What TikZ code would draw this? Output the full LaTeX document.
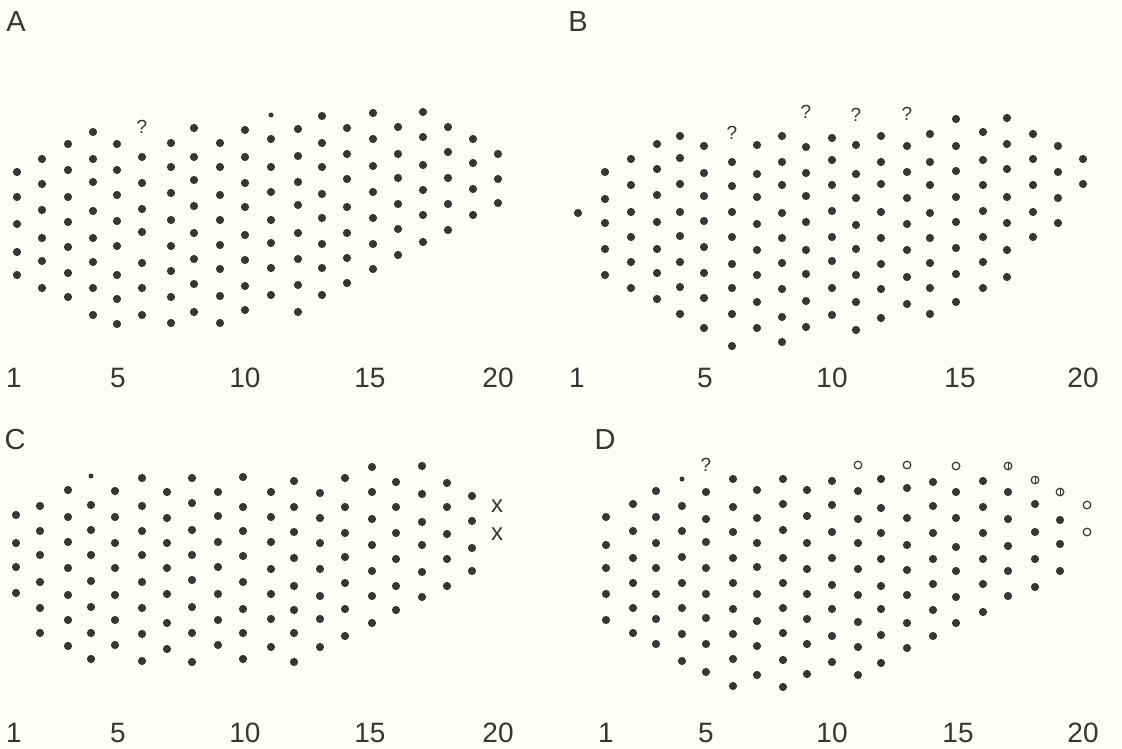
\documentclass[tikz,border=0pt]{standalone}
\usepackage{fontspec}
\setmainfont{Liberation Sans}
\definecolor{ink}{RGB}{55,53,55}
\definecolor{paper}{RGB}{253,253,247}
\tikzset{
  dot/.style={circle, fill=ink, inner sep=0pt, minimum size=8.2pt},
  smalldot/.style={circle, fill=ink, inner sep=0pt, minimum size=5pt},
  ring/.style={circle, draw=ink, line width=1.2pt, inner sep=0pt, minimum size=7.6pt},
  barred/.style={ring, path picture={\draw[ink, line width=1pt]
      (path picture bounding box.north) -- (path picture bounding box.south);}},
  query/.style={font=\fontsize{19}{19}\selectfont, text=ink, inner sep=0pt},
  cross/.style={font=\fontsize{24}{24}\selectfont, text=ink, inner sep=0pt},
  axisnum/.style={font=\fontsize{28}{28}\selectfont, text=ink, inner sep=0pt},
  panel/.style={font=\fontsize{29}{29}\selectfont, text=ink, inner sep=0pt},
}
\begin{document}
\begin{tikzpicture}[x=1pt, y=-1pt]
\fill[paper] (0,0) rectangle (1122,749);
\useasboundingbox (0,0) rectangle (1122,749);

% ---------- panel A ----------
\node[panel] (labA) at (16,22) {A};
\foreach \cx/\ys [count=\c] in {
  17/{172,197,224,252,275},
  42/{159,184,210,238,261,288},
  68/{144,170,197,222,247,273,297},
  93/{132,159,182,211,238,262,288,315},
  117/{144,170,195,221,246,275,299,324},
  142/{157,183,209,232,263,288,315},
  171/{143,167,193,220,246,271,297,323},
  194/{128,157,180,206,233,259,284,312},
  220/{143,167,195,220,245,269,296,323},
  245/{130,157,183,207,235,260,286,310},
  271/{139,167,192,220,243,268,295},
  298/{129,156,182,205,233,259,285,312},
  322/{116,143,167,194,218,244,268,295},
  347/{128,154,179,207,233,258,283},
  373/{113,139,166,192,218,244,269},
  398/{127,154,178,204,229,255},
  423/{112,137,165,190,215,242},
  448/{127,152,178,204,230},
  473/{139,163,189,215},
  498/{154,179,203}} {
  \foreach \cy [count=\r] in \ys {
    \node[dot] (A-\c-\r) at (\cx,\cy) {};
  }
}
\node[query] (A-q6) at (142,127) {?};
\node[smalldot] (A-s11) at (271,115) {};
\foreach \n/\px in {1/14, 5/118, 10/245, 15/370, 20/498}
  \node[axisnum] (A-n\n) at (\px,378) {\n};

% ---------- panel B ----------
\node[panel] (labB) at (578,22) {B};
\foreach \cx/\ys [count=\c] in {
  578/{213},
  605/{172,199,223,249,275},
  631/{159,185,212,237,262,288},
  657/{144,169,195,222,249,273,299},
  680/{136,158,184,212,236,262,287,314},
  704/{146,173,196,221,247,273,298,328},
  732/{162,186,212,237,264,288,314,346},
  757/{145,174,197,224,250,275,302,328},
  782/{136,162,185,213,238,263,289,317,342},
  806/{147,173,196,222,250,274,301,327},
  832/{138,160,185,211,237,261,288,315},
  856/{145,174,198,225,249,275,302,330},
  881/{136,162,184,212,238,264,289,318},
  907/{146,172,198,224,250,277,304},
  930/{134,162,185,213,238,263,288,314},
  956/{119,146,171,197,222,248,274,302},
  983/{132,160,185,211,237,262,288},
  1007/{118,144,169,197,223,250,277},
  1033/{134,159,185,212,237},
  1058/{146,172,198,223},
  1083/{159,184}} {
  \foreach \cy [count=\r] in \ys {
    \node[dot] (B-\c-\r) at (\cx,\cy) {};
  }
}
\node[query] (B-q7) at (732,133) {?};
\node[query] (B-q10) at (806,112) {?};
\node[query] (B-q12) at (856,115) {?};
\node[query] (B-q14) at (907,114) {?};
\foreach \n/\px in {1/577, 5/705, 10/832, 15/960, 20/1083}
  \node[axisnum] (B-n\n) at (\px,378) {\n};

% ---------- panel C ----------
\node[panel] (labC) at (15,440) {C};
\foreach \cx/\ys [count=\c] in {
  16/{515,543,567,593},
  40/{506,531,555,582,608,633},
  68/{490,517,542,568,595,620,646},
  91/{505,530,555,581,607,633,659},
  115/{491,517,543,568,595,620,645},
  142/{478,506,531,555,582,608,634,661},
  167/{492,518,543,568,594,623,649},
  192/{478,503,530,555,580,607,633,662},
  218/{492,516,542,567,594,620,645},
  243/{477,507,531,556,582,609,633,659},
  271/{492,517,542,569,594,619,647},
  294/{481,507,532,558,586,610,633,662},
  320/{493,518,543,569,596,619,647},
  345/{478,507,533,557,583,609,636},
  372/{467,492,519,545,571,596,623},
  396/{482,507,533,559,586,610},
  422/{466,494,522,545,572,597},
  447/{483,507,534,559,586},
  472/{496,521,548,571}} {
  \foreach \cy [count=\r] in \ys {
    \node[dot] (C-\c-\r) at (\cx,\cy) {};
  }
}
\node[smalldot] (C-s4) at (91,476) {};
\node[cross] (C-x1) at (497,506) {x};
\node[cross] (C-x2) at (497,534) {x};
\foreach \n/\px in {1/14, 5/118, 10/245, 15/370, 20/498}
  \node[axisnum] (C-n\n) at (\px,733) {\n};

% ---------- panel D ----------
\node[panel] (labD) at (605,440) {D};
\foreach \cx/\ys [count=\c] in {
  606/{517,545,568,594,620},
  633/{504,531,558,583,608,633},
  656/{491,517,543,568,594,619,644},
  682/{506,531,557,583,608,634,661},
  706/{492,519,542,568,594,618,644,672},
  733/{479,507,532,558,583,609,634,659,686},
  757/{490,518,543,567,594,621,646,675},
  783/{479,504,530,558,583,608,633,660,687},
  807/{490,516,543,569,594,619,644,674},
  832/{481,505,532,558,585,609,636,662},
  858/{491,519,543,569,595,622,647,675},
  881/{479,508,533,559,586,609,635,663},
  907/{488,518,545,570,595,623,648},
  933/{482,506,533,559,584,610,636},
  956/{492,518,547,571,597,623},
  983/{481,507,533,559,584,612},
  1008/{492,519,546,571,596},
  1035/{504,532,559,587},
  1060/{520,544,571}} {
  \foreach \cy [count=\r] in \ys {
    \node[dot] (D-\c-\r) at (\cx,\cy) {};
  }
}
\node[smalldot] (D-s4) at (682,479) {};
\node[query] (D-q5) at (706,465) {?};
\node[ring] (D-o11) at (858,465) {};
\node[ring] (D-o13) at (907,465) {};
\node[ring] (D-o15) at (956,466) {};
\node[barred] (D-b17) at (1008,466) {};
\node[barred] (D-b18) at (1035,480) {};
\node[barred] (D-b19) at (1060,492) {};
\node[ring] (D-o20a) at (1087,505) {};
\node[ring] (D-o20b) at (1087,532) {};
\foreach \n/\px in {1/606, 5/706, 10/832, 15/958, 20/1083}
  \node[axisnum] (D-n\n) at (\px,733) {\n};
\end{tikzpicture}
\end{document}
